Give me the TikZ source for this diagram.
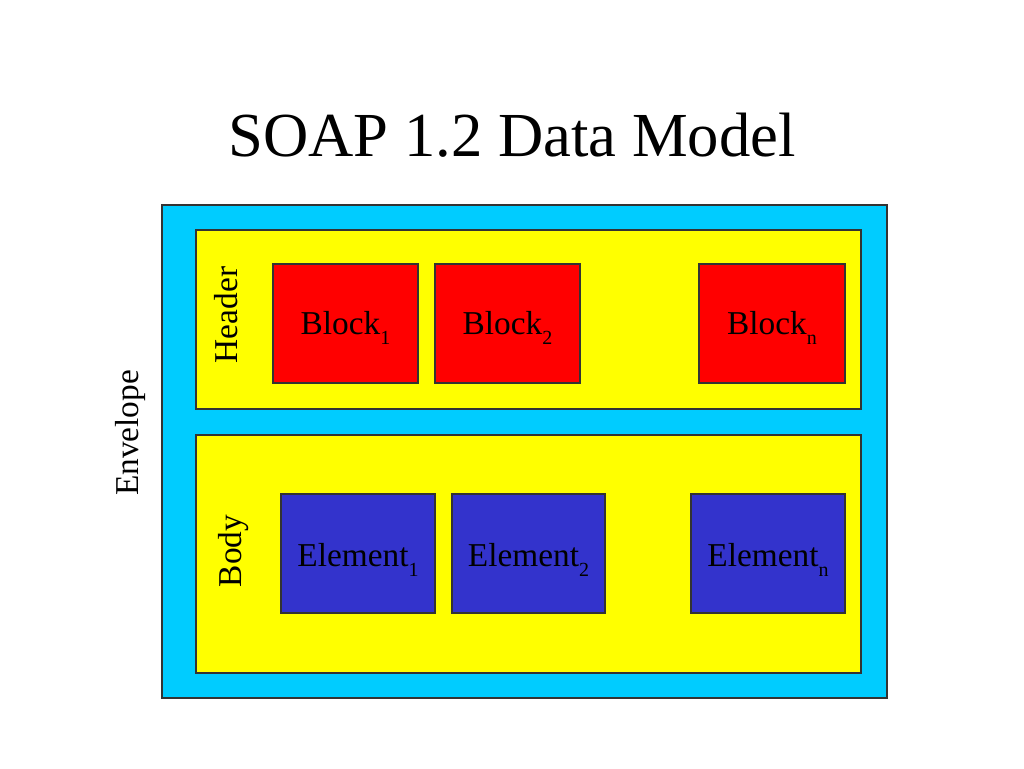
\documentclass[tikz,border=0pt]{standalone}
\usepackage{fontspec}
\setmainfont{Liberation Serif}
\definecolor{envcol}{HTML}{00CCFF}
\definecolor{hdrcol}{HTML}{FFFF00}
\definecolor{blkcol}{HTML}{FF0000}
\definecolor{elecol}{HTML}{3333CC}
\definecolor{edgecol}{HTML}{333333}
\newcommand{\sbs}[1]{\raisebox{-0.3em}{\fontsize{15}{18}\selectfont #1}}
\begin{document}
\begin{tikzpicture}[x=0.75pt,y=-0.75pt,
  box/.style={draw=edgecol,line width=0.9pt},
  lbl/.style={font=\fontsize{25}{30}\selectfont,inner sep=0pt},
  ttl/.style={font=\fontsize{47}{56}\selectfont,inner sep=0pt}]
\useasboundingbox (0,0) rectangle (1024,768);
\fill[white] (0,0) rectangle (1024,768);
\node[ttl] (title) at (512,135) {SOAP 1.2 Data Model};
\draw[box,fill=envcol] (162,205) rectangle (887,698);
\draw[box,fill=hdrcol] (196,230) rectangle (861,409);
\draw[box,fill=hdrcol] (196,435) rectangle (861,673);
\draw[box,fill=blkcol] (273,264) rectangle (418,383);
\draw[box,fill=blkcol] (435,264) rectangle (580,383);
\draw[box,fill=blkcol] (699,264) rectangle (845,383);
\draw[box,fill=elecol] (281,494) rectangle (435,613);
\draw[box,fill=elecol] (452,494) rectangle (605,613);
\draw[box,fill=elecol] (691,494) rectangle (845,613);
\node[lbl] (b1) at (345.5,328) {Block\sbs{1}};
\node[lbl] (b2) at (507.5,328) {Block\sbs{2}};
\node[lbl] (bn) at (772,328) {Block\sbs{n}};
\node[lbl] (e1) at (358,560) {Element\sbs{1}};
\node[lbl] (e2) at (528.5,560) {Element\sbs{2}};
\node[lbl] (en) at (768,560) {Element\sbs{n}};
\node[lbl,rotate=90] (hdr) at (226,315) {Header};
\node[lbl,rotate=90] (bdy) at (234,551) {Body};
\node[lbl,rotate=90] (env) at (130,433) {Envelope};
\end{tikzpicture}
\end{document}
